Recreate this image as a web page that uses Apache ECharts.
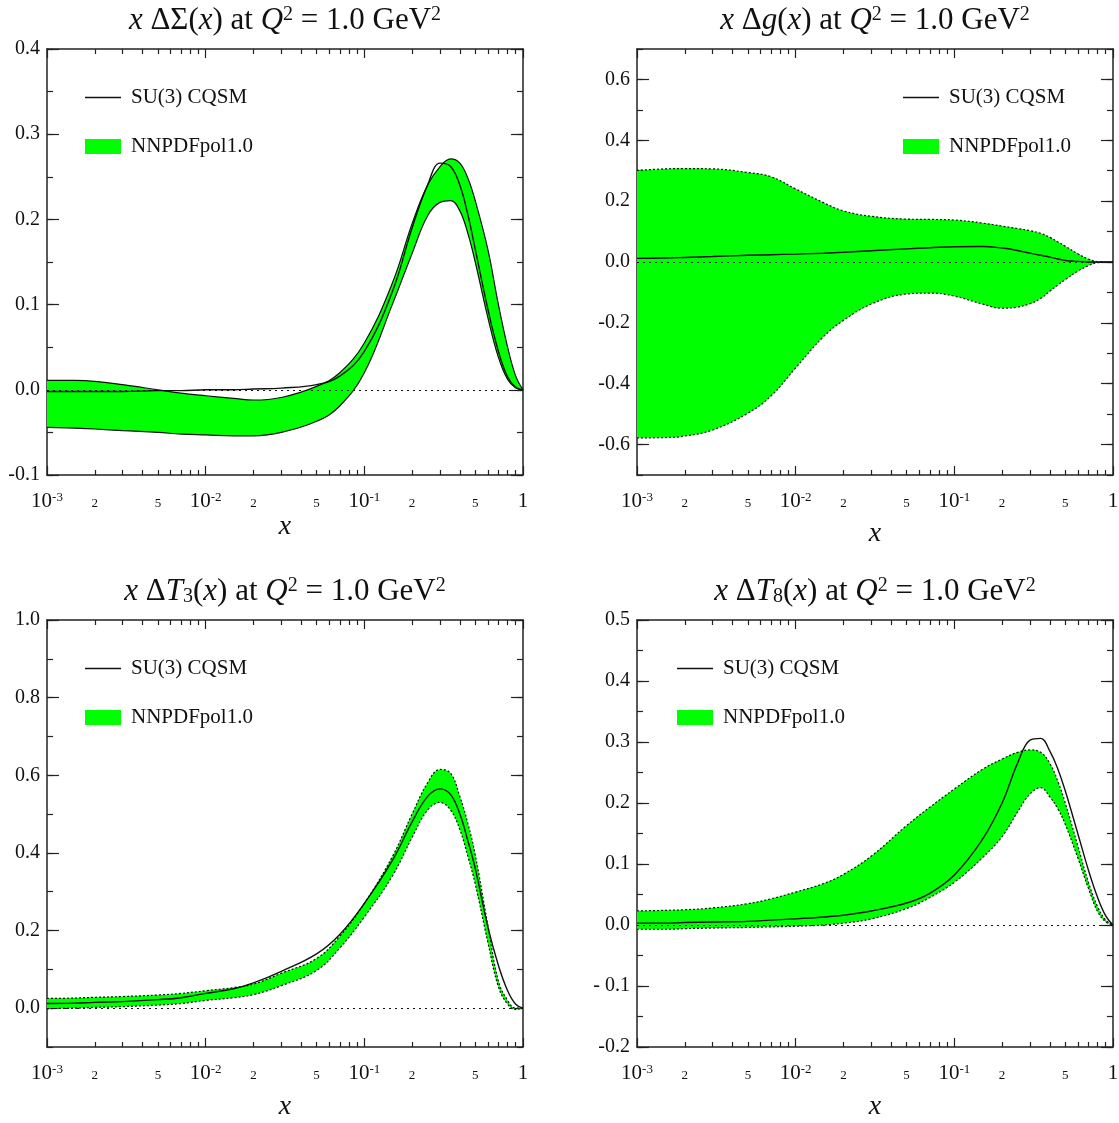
<!DOCTYPE html>
<html>
<head>
<meta charset="utf-8">
<script src="https://cdn.jsdelivr.net/npm/echarts@6/dist/echarts.min.js"></script>
<style>
  html, body { margin: 0; padding: 0; background: #fff; }
  #chart { width: 1119px; height: 1123px; }
</style>
</head>
<body>
<div id="chart"></div>
<script>
// ---- x sampling shared by all panels ----
const xGrid = [0.001, 0.0015, 0.002, 0.003, 0.005, 0.007, 0.01, 0.015, 0.02, 0.03, 0.05, 0.07,
               0.1, 0.15, 0.2, 0.25, 0.3, 0.35, 0.4, 0.45, 0.5, 0.6, 0.7, 0.8, 0.9, 1.0];

// ---- x Delta Sigma(x) ----
const sigmaUpper = [0.011, 0.011, 0.010, 0.006, 0.000, -0.004, -0.007, -0.010, -0.012, -0.009, 0.004, 0.020,
                    0.055, 0.125, 0.195, 0.240, 0.262, 0.271, 0.266, 0.248, 0.222, 0.165, 0.100, 0.050, 0.016, 0];
const sigmaLower = [-0.044, -0.045, -0.046, -0.048, -0.050, -0.052, -0.053, -0.054, -0.054, -0.050, -0.037, -0.019,
                    0.020, 0.100, 0.160, 0.204, 0.220, 0.222, 0.210, 0.183, 0.150, 0.085, 0.038, 0.012, 0.002, 0];
const sigmaCQSM  = [-0.002, -0.002, -0.002, -0.002, -0.001, -0.001, 0.000, 0.000, 0.001, 0.002, 0.006, 0.016,
                    0.045, 0.115, 0.190, 0.240, 0.266, 0.262, 0.240, 0.205, 0.165, 0.095, 0.045, 0.015, 0.003, 0];

// ---- x Delta g(x) ----
const gluonUpper = [0.301, 0.306, 0.307, 0.306, 0.294, 0.280, 0.240, 0.195, 0.168, 0.150, 0.141, 0.140,
                    0.138, 0.128, 0.118, 0.110, 0.103, 0.094, 0.081, 0.066, 0.052, 0.027, 0.010, 0.001, 0, 0];
const gluonLower = [-0.578, -0.577, -0.572, -0.552, -0.497, -0.440, -0.348, -0.245, -0.192, -0.138, -0.105, -0.102,
                    -0.112, -0.138, -0.152, -0.148, -0.137, -0.120, -0.096, -0.075, -0.058, -0.030, -0.012, -0.002, 0, 0];
const gluonCQSM  = [0.012, 0.013, 0.015, 0.018, 0.022, 0.024, 0.026, 0.029, 0.032, 0.037, 0.043, 0.047,
                    0.050, 0.051, 0.046, 0.038, 0.029, 0.022, 0.016, 0.010, 0.005, 0.002, 0, 0, 0, 0];

// ---- x Delta T3(x) ----
const t3Upper = [0.025, 0.026, 0.028, 0.030, 0.034, 0.038, 0.045, 0.053, 0.062, 0.090, 0.128, 0.185,
                 0.270, 0.390, 0.500, 0.580, 0.615, 0.605, 0.545, 0.475, 0.395, 0.215, 0.070, 0.020, 0.000, 0];
const t3Lower = [-0.001, 0.000, 0.002, 0.004, 0.008, 0.012, 0.020, 0.027, 0.035, 0.058, 0.097, 0.155,
                 0.235, 0.340, 0.440, 0.510, 0.530, 0.510, 0.460, 0.390, 0.320, 0.170, 0.055, 0.010, -0.003, 0];
const t3CQSM  = [0.012, 0.013, 0.015, 0.017, 0.022, 0.027, 0.038, 0.050, 0.065, 0.095, 0.140, 0.190,
                 0.270, 0.380, 0.480, 0.545, 0.565, 0.550, 0.500, 0.430, 0.360, 0.210, 0.110, 0.045, 0.010, 0];

// ---- x Delta T8(x) ----
const t8Upper = [0.023, 0.024, 0.025, 0.028, 0.035, 0.043, 0.054, 0.068, 0.083, 0.113, 0.163, 0.193,
                 0.223, 0.255, 0.272, 0.283, 0.287, 0.283, 0.265, 0.235, 0.200, 0.130, 0.070, 0.030, 0.008, 0];
const t8Lower = [-0.007, -0.007, -0.006, -0.005, -0.004, -0.003, -0.002, 0.000, 0.003, 0.010, 0.027, 0.045,
                 0.070, 0.110, 0.145, 0.185, 0.215, 0.225, 0.210, 0.190, 0.165, 0.110, 0.060, 0.022, 0.005, 0];
const t8CQSM  = [0.003, 0.003, 0.004, 0.005, 0.006, 0.008, 0.010, 0.013, 0.016, 0.023, 0.036, 0.052,
                 0.082, 0.140, 0.200, 0.265, 0.303, 0.306, 0.285, 0.255, 0.220, 0.150, 0.090, 0.045, 0.015, 0];

// ---- axis ticks and labels ----
const xRange = [0.001, 1];
const xMinorTicks = [0.002, 0.003, 0.004, 0.005, 0.006, 0.007, 0.008, 0.009,
                     0.02, 0.03, 0.04, 0.05, 0.06, 0.07, 0.08, 0.09,
                     0.2, 0.3, 0.4, 0.5, 0.6, 0.7, 0.8, 0.9];
const xMinorLabelTicks = [0.002, 0.005, 0.02, 0.05, 0.2, 0.5];

const yTicksSigma = [-0.1, 0.0, 0.1, 0.2, 0.3, 0.4];
const yLabelsSigma = ['-0.1', '0.0', '0.1', '0.2', '0.3', '0.4'];
const yTicksGluon = [-0.6, -0.4, -0.2, 0.0, 0.2, 0.4, 0.6];
const yLabelsGluon = ['-0.6', '-0.4', '-0.2', '0.0', '0.2', '0.4', '0.6'];
const yTicksT3 = [0.0, 0.2, 0.4, 0.6, 0.8, 1.0];
const yLabelsT3 = ['0.0', '0.2', '0.4', '0.6', '0.8', '1.0'];
const yTicksT8 = [-0.2, -0.1, 0.0, 0.1, 0.2, 0.3, 0.4, 0.5];
const yLabelsT8 = ['-0.2', '- 0.1', '0.0', '0.1', '0.2', '0.3', '0.4', '0.5'];

const NAME_MODEL = 'SU(3) CQSM';
const NAME_FIT = 'NNPDFpol1.0';

const titleSigma = '{i|x} {r|ΔΣ(}{i|x}{r|) at }{i|Q}{s|2}{r| = 1.0 GeV}{s|2}';
const titleGluon = '{i|x} {r|Δ}{i|g}{r|(}{i|x}{r|) at }{i|Q}{s|2}{r| = 1.0 GeV}{s|2}';
const titleT3 = '{i|x} {r|Δ}{i|T}{u|3}{r|(}{i|x}{r|) at }{i|Q}{s|2}{r| = 1.0 GeV}{s|2}';
const titleT8 = '{i|x} {r|Δ}{i|T}{u|8}{r|(}{i|x}{r|) at }{i|Q}{s|2}{r| = 1.0 GeV}{s|2}';

// ---- styling ----
const FONT = 'Liberation Serif';
const INK = '#111';
const GREEN = '#00ff00';
const frameAxis = { show: true, onZero: false, lineStyle: { color: '#222', width: 1.5 } };
const hiddenAxis = { show: false, onZero: false };
const tickLine = { color: '#222', width: 1.2 };
// thin horizontal bar with an item-sized bounding box, used as the model's legend key
const LINE_ICON = 'path://M0,0L36,0L36,0.01ZM0,6.8L36,6.8L36,8.2L0,8.2ZM0,15L36,15L36,15.01Z';

const panels = [
  { title: titleSigma, box: [47, 49, 476, 426], titleTop: 5, y: [-0.1, 0.4], minor: 0.05,
    ticks: yTicksSigma, labels: yLabelsSigma, upper: sigmaUpper, lower: sigmaLower, cqsm: sigmaCQSM,
    edge: 'solid', legend: [85, 87], nameGap: 38 },
  { title: titleGluon, box: [637, 49, 476, 426], titleTop: 5, y: [-0.7, 0.7], minor: 0.1,
    ticks: yTicksGluon, labels: yLabelsGluon, upper: gluonUpper, lower: gluonLower, cqsm: gluonCQSM,
    edge: [2, 2], legend: [903, 87], nameGap: 45 },
  { title: titleT3, box: [47, 620, 476, 427], titleTop: 576, y: [-0.1, 1.0], minor: 0.1,
    ticks: yTicksT3, labels: yLabelsT3, upper: t3Upper, lower: t3Lower, cqsm: t3CQSM,
    edge: [2, 2], legend: [85, 658], nameGap: 46 },
  { title: titleT8, box: [637, 620, 476, 427], titleTop: 576, y: [-0.2, 0.5], minor: 0.05,
    ticks: yTicksT8, labels: yLabelsT8, upper: t8Upper, lower: t8Lower, cqsm: t8CQSM,
    edge: [2, 2], legend: [677, 658], nameGap: 46 }
];

const titleRich = {
  i: { fontFamily: FONT, fontStyle: 'italic', fontSize: 31, color: INK },
  r: { fontFamily: FONT, fontSize: 31, color: INK },
  s: { fontFamily: FONT, fontSize: 20, color: INK, verticalAlign: 'top', lineHeight: 15 },
  u: { fontFamily: FONT, fontSize: 20, color: INK, verticalAlign: 'bottom', lineHeight: 13 }
};

const decadeRich = {
  b: { fontFamily: FONT, fontSize: 21, color: INK, lineHeight: 21 },
  s: { fontFamily: FONT, fontSize: 13, color: INK, verticalAlign: 'top', lineHeight: 8 }
};

function decadeLabel(v) {
  const p = Math.round(Math.log10(v));
  return p === 0 ? '{b|1}' : '{b|10}{s|' + p + '}';
}
function mantissaLabel(v) {
  return String(Math.round(Math.pow(10, v - Math.floor(v + 1e-9))));
}
function tickLabeler(ticks, labels) {
  return function (v) {
    const k = ticks.findIndex(t => Math.abs(t - v) < 1e-9);
    return k < 0 ? '' : labels[k];
  };
}

const option = {
  animation: false,
  backgroundColor: '#fff',
  textStyle: { fontFamily: FONT },
  title: [], grid: [], xAxis: [], yAxis: [], legend: [], series: []
};

panels.forEach((p, g) => {
  const [left, top, width, height] = p.box;
  option.grid.push({ left, top, width, height, containLabel: false, outerBoundsMode: 'none' });

  option.title.push({
    text: p.title, left: left + width / 2, top: p.titleTop, textAlign: 'center', padding: 0,
    textStyle: { fontFamily: FONT, fontSize: 31, color: INK, fontWeight: 'normal', rich: titleRich }
  });

  // x axes: log data axis (bottom), mirrored frame (top), minor ticks (bottom/top, log10 space)
  const minorPos = xMinorTicks.map(Math.log10);
  option.xAxis.push(
    { type: 'log', logBase: 10, gridIndex: g, position: 'bottom', min: xRange[0], max: xRange[1],
      axisLine: frameAxis,
      axisTick: { show: true, inside: true, length: 9, lineStyle: tickLine },
      axisLabel: { margin: 16, formatter: decadeLabel, rich: decadeRich },
      splitLine: { show: false }, minorTick: { show: false },
      name: 'x', nameLocation: 'middle', nameGap: p.nameGap, nameMoveOverlap: false,
      nameTextStyle: { fontFamily: FONT, fontStyle: 'italic', fontSize: 28, color: INK } },
    { type: 'log', logBase: 10, gridIndex: g, position: 'top', min: xRange[0], max: xRange[1],
      axisLine: frameAxis,
      axisTick: { show: true, inside: true, length: 9, lineStyle: tickLine },
      axisLabel: { show: false }, splitLine: { show: false } },
    { type: 'value', gridIndex: g, position: 'bottom', min: Math.log10(xRange[0]), max: Math.log10(xRange[1]),
      axisLine: hiddenAxis,
      axisTick: { show: true, inside: true, length: 5, lineStyle: tickLine, customValues: minorPos },
      axisLabel: { show: true, margin: 22, fontFamily: FONT, fontSize: 13, color: INK,
                   customValues: xMinorLabelTicks.map(Math.log10), formatter: mantissaLabel },
      splitLine: { show: false } },
    { type: 'value', gridIndex: g, position: 'top', min: Math.log10(xRange[0]), max: Math.log10(xRange[1]),
      axisLine: hiddenAxis,
      axisTick: { show: true, inside: true, length: 5, lineStyle: tickLine, customValues: minorPos },
      axisLabel: { show: false }, splitLine: { show: false } }
  );

  // y axes: labelled major ticks (left), mirrored (right), minor ticks (left/right)
  const fmt = tickLabeler(p.ticks, p.labels);
  option.yAxis.push(
    { type: 'value', gridIndex: g, position: 'left', min: p.y[0], max: p.y[1],
      axisLine: frameAxis,
      axisTick: { show: true, inside: true, length: 12, lineStyle: tickLine, customValues: p.ticks },
      axisLabel: { show: true, margin: 7, fontFamily: FONT, fontSize: 20, color: INK, customValues: p.ticks, formatter: fmt },
      splitLine: { show: false } },
    { type: 'value', gridIndex: g, position: 'right', min: p.y[0], max: p.y[1],
      axisLine: frameAxis,
      axisTick: { show: true, inside: true, length: 12, lineStyle: tickLine, customValues: p.ticks },
      axisLabel: { show: false }, splitLine: { show: false } },
    { type: 'value', gridIndex: g, position: 'left', min: p.y[0], max: p.y[1], interval: p.minor,
      axisLine: hiddenAxis,
      axisTick: { show: true, inside: true, length: 6, lineStyle: tickLine },
      axisLabel: { show: false }, splitLine: { show: false } },
    { type: 'value', gridIndex: g, position: 'right', min: p.y[0], max: p.y[1], interval: p.minor,
      axisLine: hiddenAxis,
      axisTick: { show: true, inside: true, length: 6, lineStyle: tickLine },
      axisLabel: { show: false }, splitLine: { show: false } }
  );

  option.legend.push({
    left: p.legend[0], top: p.legend[1], orient: 'vertical', padding: 0,
    itemWidth: 36, itemHeight: 15, itemGap: 28, selectedMode: false,
    textStyle: { fontFamily: FONT, fontSize: 21, color: INK, padding: [0, 0, 0, 5] },
    data: [
      { name: NAME_MODEL, icon: LINE_ICON, itemStyle: { color: INK, borderWidth: 0 } },
      { name: NAME_FIT, icon: 'rect', itemStyle: { color: GREEN, borderWidth: 0 } }
    ]
  });

  const xIdx = g * 4, yIdx = g * 4;
  const stackId = 'band' + g;
  const edgeStyle = { color: INK, width: 1.2, type: p.edge };

  // uncertainty band: lower edge, then its width stacked on top of it.
  // Rows are [value, x] so that the value column is the one being stacked.
  option.series.push({
    name: NAME_FIT + ' lower edge', type: 'line', xAxisIndex: xIdx, yAxisIndex: yIdx,
    data: xGrid.map((x, i) => [p.lower[i], x]), encode: { x: 1, y: 0 },
    stack: stackId, stackStrategy: 'all', smooth: 0.4, symbol: 'none', silent: true,
    lineStyle: edgeStyle, z: 3
  });
  option.series.push({
    name: NAME_FIT, type: 'line', xAxisIndex: xIdx, yAxisIndex: yIdx,
    data: xGrid.map((x, i) => [p.upper[i] - p.lower[i], x]), encode: { x: 1, y: 0 },
    stack: stackId, stackStrategy: 'all', smooth: 0.4, symbol: 'none', silent: true,
    itemStyle: { color: GREEN }, lineStyle: edgeStyle,
    areaStyle: { color: GREEN, opacity: 1 }, z: 2
  });
  option.series.push({
    name: NAME_MODEL, type: 'line', xAxisIndex: xIdx, yAxisIndex: yIdx,
    data: xGrid.map((x, i) => [x, p.cqsm[i]]),
    smooth: 0.4, symbol: 'none', silent: true,
    itemStyle: { color: INK }, lineStyle: { color: INK, width: 1.4 }, z: 4,
    markLine: {
      silent: true, symbol: ['none', 'none'], label: { show: false },
      lineStyle: { color: INK, width: 1.2, type: [2, 4] },
      data: [{ yAxis: 0 }]
    }
  });
});

const chart = echarts.init(document.getElementById('chart'), null, { renderer: 'canvas' });
chart.setOption(option);
</script>
</body>
</html>
